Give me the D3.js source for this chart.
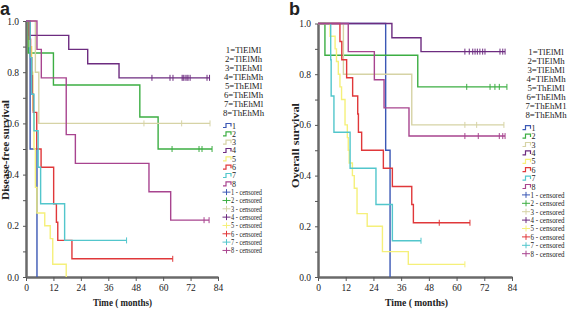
<!DOCTYPE html>
<html>
<head>
<meta charset="utf-8">
<script src="https://cdn.jsdelivr.net/npm/d3@7"></script>
<style>
  body { margin: 0; background: #fff; }
  svg text { font-family: "Liberation Serif", "Times New Roman", serif; fill: #222; }
</style>
</head>
<body>
<svg id="chart" width="567" height="311"></svg>
<script>
var groups = ['1', '2', '3', '4', '5', '6', '7', '8'];
var groupColors = ['#3b58b5', '#3cae43', '#d6d3a5', '#6d2c80', '#f5f07a', '#e0383a', '#52c6cc', '#a8448f'];
var legendA = ['1=TlElMl', '2=TlElMh', '3=TlEhMl', '4=TlEhMh', '5=ThElMl', '6=ThElMh', '7=ThEhMl', '8=ThEhMh'];
var legendB = ['1=TlElMl', '2=TlElMh', '3=TlEhMl', '4=TlEhMh', '5=ThElMl', '6=ThElMh', '7=ThEhM1', '8=ThEhMh'];
var timeTicks = [0, 12, 24, 36, 48, 60, 72, 84];
var survTicks = [0, 0.1, 0.2, 0.3, 0.4, 0.5, 0.6, 0.7, 0.8, 0.9, 1.0];

// disease-free survival: event times, survival after each event, last follow-up, censored times
var dfsTimes = [
  [1.8, 4.8],
  [1, 12, 49.8, 57.8],
  [4.1, 5.6],
  [1.4, 18.7, 27, 40.7],
  [1.5, 2.5, 3, 3.5, 4.1, 4.8, 8.2, 10.6, 11.7, 17.6],
  [1.5, 2, 2.5, 2.8, 3.2, 4.7, 6.6, 12.1, 13.3, 13.9, 20.1],
  [1.8, 2.5, 3.5, 5.3, 6.4, 16.9],
  [4.8, 6.7, 17.6, 21.6, 53.8, 63.3]
];
var dfsSurv = [
  [0.5, 0],
  [0.875, 0.75, 0.625, 0.5],
  [0.8, 0.6],
  [0.944, 0.889, 0.833, 0.778],
  [0.9, 0.8, 0.65, 0.5, 0.35, 0.25, 0.2, 0.15, 0.05, 0],
  [0.929, 0.857, 0.786, 0.714, 0.643, 0.5, 0.429, 0.286, 0.214, 0.143, 0.071],
  [0.857, 0.714, 0.571, 0.429, 0.286, 0.143],
  [0.889, 0.778, 0.556, 0.444, 0.333, 0.222]
];
var dfsEnd = [4.8, 81.4, 80.5, 80.3, 17.6, 64.2, 44, 80.1];
var dfsCensor = [
  [],
  [63.9, 75.7, 77, 81.4],
  [51.6, 68.1, 80.5],
  [55.1, 63, 64.3, 68.3, 68.8, 69.6, 70.4, 70.9, 71.8, 79.2, 80.3],
  [],
  [64.2],
  [44],
  [77.9, 80.1]
];

// overall survival
var osTimes = [
  [29.3, 31.2],
  [3.0, 43.2],
  [11, 40.6],
  [32, 44.6],
  [5.2, 7.4, 8.0, 8.8, 9.5, 10.2, 11.7, 12.7, 13.1, 13.5, 14.9, 15.7, 16.9, 21.3, 27.9, 39.1],
  [9.5, 10.3, 12.4, 15, 17.2, 17.5, 18.9, 28.3, 32.2, 40.6, 41.3],
  [5.5, 5.7, 6.9, 13.9, 25.1, 32.2],
  [13.1, 24.4, 28.6, 39.4]
];
var osSurv = [
  [0.5, 0],
  [0.875, 0.75],
  [0.8, 0.6],
  [0.944, 0.889],
  [0.95, 0.9, 0.85, 0.8, 0.75, 0.7, 0.6, 0.55, 0.5, 0.45, 0.4, 0.35, 0.25, 0.2, 0.1, 0.05],
  [0.929, 0.857, 0.786, 0.714, 0.643, 0.571, 0.5, 0.429, 0.357, 0.286, 0.214],
  [0.857, 0.714, 0.571, 0.429, 0.286, 0.143],
  [0.889, 0.778, 0.667, 0.556]
];
var osEnd = [31.2, 81.8, 80.5, 81, 63.6, 65.8, 44.6, 81];
var osCensor = [
  [],
  [64.4, 74.5, 76.6, 78.5, 81.8],
  [63.6, 68.7, 80.5],
  [63.6, 65.5, 67, 68, 69, 70.1, 71.3, 72.3, 78.8, 80, 81],
  [63.6],
  [52.5, 65.8],
  [44.6],
  [63.6, 69.4, 78.5, 80, 81]
];

var svg = d3.select('#chart');

function survAt(times, surv, t) {
  var s = 1;
  for (var i = 0; i < times.length; i++) { if (times[i] <= t) s = surv[i]; }
  return s;
}

function drawPanel(p) {
  var x = d3.scaleLinear().domain([0, 84]).range([p.x0, p.x1]);
  var y = d3.scaleLinear().domain([0, 1]).range([p.yBot, p.yTop]);
  var g = svg.append('g');

  // axes
  var ax = g.append('g').attr('transform', 'translate(0,' + p.yBot + ')')
    .call(d3.axisBottom(x).tickValues(timeTicks).tickSize(4).tickSizeOuter(0).tickFormat(d3.format('d')));
  var ay = g.append('g').attr('transform', 'translate(' + p.x0 + ',0)')
    .call(d3.axisLeft(y).tickValues(survTicks).tickSize(3).tickSizeOuter(0)
      .tickFormat(function (d) { return Math.round(d * 10) % 2 === 0 ? d.toFixed(1) : ''; }));
  [ax, ay].forEach(function (a) {
    a.select('.domain').attr('stroke', '#6a6a6a').attr('stroke-width', 2.5);
    a.selectAll('.tick line').attr('stroke', '#555').attr('stroke-width', 1);
    a.selectAll('.tick text').attr('font-size', 9.5).attr('font-family', '"Liberation Serif", serif').attr('fill', '#333');
  });
  ay.selectAll('.tick text').attr('dx', '-0.1em');

  // curves
  var line = d3.line().x(function (d) { return x(d[0]); }).y(function (d) { return y(d[1]); }).curve(d3.curveStepAfter);
  groups.forEach(function (grp, i) {
    var times = p.times[i], surv = p.surv[i];
    var pts = [[0, 1]];
    times.forEach(function (t, j) { pts.push([t, surv[j]]); });
    if (p.end[i] > times[times.length - 1]) pts.push([p.end[i], surv[surv.length - 1]]);
    g.append('path').datum(pts).attr('d', line)
      .attr('fill', 'none').attr('stroke', groupColors[i]).attr('stroke-width', 1.4);
    g.selectAll(null).data(p.censor[i]).enter().append('line')
      .attr('x1', function (c) { return x(c); }).attr('x2', function (c) { return x(c); })
      .attr('y1', function (c) { return y(survAt(times, surv, c)) - 3; })
      .attr('y2', function (c) { return y(survAt(times, surv, c)) + 3; })
      .attr('stroke', groupColors[i]).attr('stroke-width', 1);
  });

  // titles
  g.append('text').attr('x', p.titleX).attr('y', 306).attr('text-anchor', 'middle')
    .attr('font-size', 11).attr('font-weight', 'bold')
    .attr('textLength', p.titleLen).attr('lengthAdjust', 'spacingAndGlyphs').text('Time ( months)');
  g.append('text').attr('transform', 'translate(' + p.yLabelX + ',' + p.yLabelY + ') rotate(-90)')
    .attr('text-anchor', 'middle').attr('font-size', 11).attr('font-weight', 'bold')
    .attr('textLength', p.yLabelLen).attr('lengthAdjust', 'spacingAndGlyphs').text(p.yLabel);
  g.append('text').attr('x', p.letterX).attr('y', 15)
    .attr('font-size', 18).attr('font-weight', 'bold')
    .attr('fill', '#111').style('font-family', '"Liberation Sans", Arial, sans-serif').text(p.letter);

  // legend: group names
  g.selectAll(null).data(p.legend).enter().append('text')
    .attr('x', p.legTextX).attr('y', function (d, i) { return p.legTextY + i * p.legTextStep + 3; })
    .attr('text-anchor', 'middle').attr('font-size', 8.8).text(function (d) { return d; });

  // legend: line and censor symbols
  groups.forEach(function (grp, i) {
    var cy = p.symY + i * p.symStep, sx = p.symX;
    g.append('path').attr('d', 'M' + sx + ',' + (cy + 2) + 'H' + (sx + 3) + 'V' + (cy - 2) + 'H' + (sx + 8) + 'V' + (cy + 1))
      .attr('fill', 'none').attr('stroke', groupColors[i]).attr('stroke-width', 1.2);
    g.append('text').attr('x', sx + 9).attr('y', cy + 3).attr('font-size', 8).text(grp);
    var cy2 = p.symY + (i + 8) * p.symStep, cx = sx + 3.5;
    g.append('path').attr('d', 'M' + (cx - 4) + ',' + cy2 + 'H' + (cx + 4) + 'M' + cx + ',' + (cy2 - 3) + 'V' + (cy2 + 3))
      .attr('fill', 'none').attr('stroke', groupColors[i]).attr('stroke-width', 1);
    g.append('text').attr('x', sx + 8).attr('y', cy2 + 2.8).attr('font-size', 7.4)
      .attr('textLength', p.censLen).attr('lengthAdjust', 'spacingAndGlyphs').text(grp + ' - censored');
  });
}

drawPanel({
  x0: 26, x1: 218, yTop: 21, yBot: 277,
  times: dfsTimes, surv: dfsSurv, end: dfsEnd, censor: dfsCensor,
  titleX: 122.5, titleLen: 59, yLabel: 'Disease-free survival', yLabelX: 9, yLabelY: 150, yLabelLen: 100,
  letter: 'a', letterX: 0,
  legend: legendA, legTextX: 243.5, legTextY: 50, legTextStep: 8.95,
  symX: 223, symY: 125.5, symStep: 8.33, censLen: 31
});

drawPanel({
  x0: 318, x1: 512, yTop: 23.5, yBot: 277,
  times: osTimes, surv: osSurv, end: osEnd, censor: osCensor,
  titleX: 416.5, titleLen: 63, yLabel: 'Overall survival', yLabelX: 299, yLabelY: 145.5, yLabelLen: 85,
  letter: 'b', letterX: 289,
  legend: legendB, legTextX: 546, legTextY: 51.7, legTextStep: 9.05,
  symX: 522.5, symY: 127.7, symStep: 8.4, censLen: 34
});
</script>
</body>
</html>
